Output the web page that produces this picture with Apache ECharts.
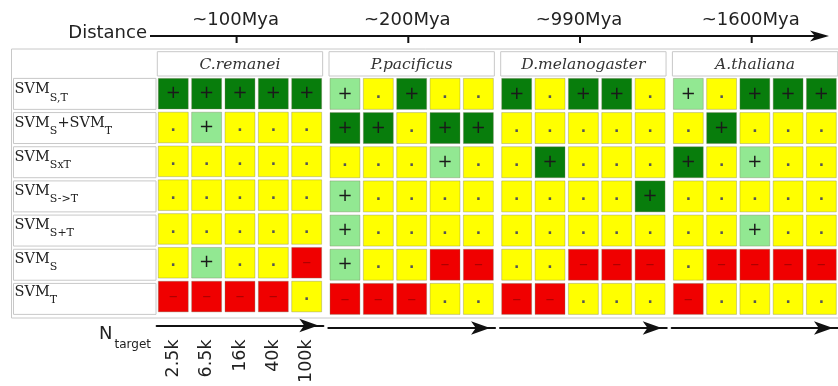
<!DOCTYPE html>
<html><head><meta charset="utf-8">
<script src="https://cdn.jsdelivr.net/npm/echarts@6/dist/echarts.min.js"></script>
<style>html,body{margin:0;padding:0;background:#fff}#c{width:838px;height:386px}</style>
</head><body><div id="c"></div>
<script>
// ---- data ----
const nTargets = ['2.5k', '6.5k', '16k', '40k', '100k'];
const models = ['S,T', 'S+T_sum', 'SxT', 'S->T', 'S+T', 'S', 'T'];
const species = ['C.remanei', 'P.pacificus', 'D.melanogaster', 'A.thaliana'];
const distances = ['~100Mya', '~200Mya', '~990Mya', '~1600Mya'];
// codes: 2 = significant gain (dark green), 1 = weak gain (light green), 0 = no change (yellow), -1 = loss (red)
const cRemanei = [
  [2, 2, 2, 2, 2],
  [0, 1, 0, 0, 0],
  [0, 0, 0, 0, 0],
  [0, 0, 0, 0, 0],
  [0, 0, 0, 0, 0],
  [0, 1, 0, 0, -1],
  [-1, -1, -1, -1, 0]
];
const pPacificus = [
  [1, 0, 2, 0, 0],
  [2, 2, 0, 2, 2],
  [0, 0, 0, 1, 0],
  [1, 0, 0, 0, 0],
  [1, 0, 0, 0, 0],
  [1, 0, 0, -1, -1],
  [-1, -1, -1, 0, 0]
];
const dMelanogaster = [
  [2, 0, 2, 2, 0],
  [0, 0, 0, 0, 0],
  [0, 2, 0, 0, 0],
  [0, 0, 0, 0, 2],
  [0, 0, 0, 0, 0],
  [0, 0, -1, -1, -1],
  [-1, -1, 0, 0, 0]
];
const aThaliana = [
  [1, 0, 2, 2, 2],
  [0, 2, 0, 0, 0],
  [2, 0, 1, 0, 0],
  [0, 0, 0, 0, 0],
  [0, 0, 1, 0, 0],
  [0, -1, -1, -1, -1],
  [-1, 0, 0, 0, 0]
];
const groups = [cRemanei, pPacificus, dMelanogaster, aThaliana];

// ---- style ----
const fillColor = { '2': '#087d0c', '1': '#92e892', '0': '#ffff00', '-1': '#f00000' };
const symText = { '2': '+', '1': '+', '0': '.', '-1': '\u2013' };
const symColor = { '2': '#1a1a1a', '1': '#1a1a1a', '0': '#555', '-1': '#b00000' };
const rowLabelRich = {
  'S,T': '{m|SVM}{s|S,T}',
  'S+T_sum': '{m|SVM}{s|S}{m|+SVM}{s|T}',
  'SxT': '{m|SVM}{s|SxT}',
  'S->T': '{m|SVM}{s|S->T}',
  'S+T': '{m|SVM}{s|S+T}',
  'S': '{m|SVM}{s|S}',
  'T': '{m|SVM}{s|T}'
};

const GRID_TOP = 76.8, ROW_PITCH = 34.17, GRID_H = 7 * ROW_PITCH;
const COL_PITCH = 33.35, GRID_W = 5 * COL_PITCH;
const LEFT0 = 156.6, GROUP_PITCH = 171.7;

const chart = echarts.init(document.getElementById('c'), null, { renderer: 'canvas' });

const grids = [], xAxes = [], yAxes = [], series = [];
groups.forEach((g, gi) => {
  grids.push({ left: LEFT0 + gi * GROUP_PITCH, top: GRID_TOP, width: GRID_W, height: GRID_H });
  xAxes.push({
    type: 'category', gridIndex: gi, data: nTargets, position: 'bottom', offset: 12,
    axisLine: { show: true, symbol: ['none', 'arrow'], symbolSize: [10, 19], symbolOffset: [0, -5],
      lineStyle: { color: '#111', width: 2 } },
    axisTick: { show: false }, splitLine: { show: false },
    axisLabel: gi === 0 ? { show: true, rotate: 90, margin: 14, fontSize: 17.5, fontFamily: 'DejaVu Sans', color: '#222' } : { show: false }
  });
  yAxes.push({
    type: 'category', gridIndex: gi, data: models, inverse: true,
    axisLine: { show: false }, axisTick: { show: false }, splitLine: { show: false },
    axisLabel: gi === 0 ? {
      show: true, align: 'left', margin: 142, padding: [0, 0, 7, 0],
      formatter: v => rowLabelRich[v],
      rich: {
        m: { fontSize: 14.5, fontFamily: 'DejaVu Serif', color: '#222', lineHeight: 16, verticalAlign: 'top' },
        s: { fontSize: 11, fontFamily: 'DejaVu Serif', color: '#222', lineHeight: 10, padding: [10, 0, 0, 0], verticalAlign: 'top' }
      }
    } : { show: false }
  });
  const data = [];
  g.forEach((row, ri) => row.forEach((v, ci) => data.push([ci, ri, v])));
  series.push({
    type: 'custom', xAxisIndex: gi, yAxisIndex: gi, data,
    renderItem(params, api) {
      const v = api.value(2);
      const c = api.coord([api.value(0), api.value(1)]);
      const s = api.size([1, 1]);
      const w = s[0] - 3.4, h = s[1] - 3.2;
      return {
        type: 'rect',
        shape: { x: c[0] - w / 2, y: c[1] - h / 2, width: w, height: h },
        style: { fill: fillColor[v], stroke: 'rgba(120,120,90,0.35)', lineWidth: 1 },
        textContent: {
          style: { text: symText[v], fill: symColor[v], fontSize: v === 0 ? 14 : 18,
            fontFamily: 'DejaVu Sans', fontWeight: v === 0 ? 'bold' : 'normal' }
        },
        textConfig: { position: 'inside' }
      };
    }
  });
});

// decorations
const graphic = [];
graphic.push({ type: 'rect', shape: { x: 11.5, y: 49, width: 840, height: 269 },
  style: { fill: 'none', stroke: '#c8c8c8', lineWidth: 1 }, z: -10 });
models.forEach((m, ri) => {
  graphic.push({ type: 'rect', shape: { x: 13.5, y: GRID_TOP + ri * ROW_PITCH + 1.6, width: 142.5, height: ROW_PITCH - 3.2 },
    style: { fill: '#fff', stroke: '#c8c8c8', lineWidth: 1 }, z: -5 });
});
species.forEach((sp, gi) => {
  const x0 = LEFT0 + gi * GROUP_PITCH;
  graphic.push({ type: 'rect', shape: { x: x0 + 0.7, y: 51.7, width: Math.min(GRID_W - 1.4, 838 - x0), height: 24.3 },
    style: { fill: '#fff', stroke: '#c8c8c8', lineWidth: 1 }, z: -5 });
  graphic.push({ type: 'text', style: { text: sp, x: x0 + GRID_W / 2, y: 64.5, font: 'italic 15.5px "DejaVu Serif"',
    fill: '#333', textAlign: 'center', textVerticalAlign: 'middle', align: 'center', verticalAlign: 'middle' } });
  const tx = x0 + 80;
  graphic.push({ type: 'line', shape: { x1: tx, y1: 36, x2: tx, y2: 43 }, style: { stroke: '#111', lineWidth: 2 } });
  graphic.push({ type: 'text', style: { text: distances[gi], x: tx - 1, y: 20.5, font: '18px "DejaVu Sans"',
    fill: '#222', textAlign: 'center', textVerticalAlign: 'middle', align: 'center', verticalAlign: 'middle' } });
});
graphic.push({ type: 'line', shape: { x1: 150, y1: 36, x2: 818, y2: 36 }, style: { stroke: '#111', lineWidth: 2 } });
graphic.push({ type: 'polygon', shape: { points: [[829, 36], [810, 30.5], [815, 36], [810, 41.5]] }, style: { fill: '#111' } });
graphic.push({ type: 'text', style: { text: 'Distance', x: 147, y: 33, font: '18px "DejaVu Sans"', fill: '#222',
  textAlign: 'right', textVerticalAlign: 'middle', align: 'right', verticalAlign: 'middle' } });
graphic.push({ type: 'text', style: { text: 'N', x: 99, y: 334.5, font: '18px "DejaVu Sans"', fill: '#222',
  textAlign: 'left', textVerticalAlign: 'middle', align: 'left', verticalAlign: 'middle' } });
graphic.push({ type: 'text', style: { text: 'target', x: 114.5, y: 345, font: '12px "DejaVu Sans"', fill: '#222',
  textAlign: 'left', textVerticalAlign: 'middle', align: 'left', verticalAlign: 'middle' } });

chart.setOption({
  animation: false,
  backgroundColor: '#fff',
  grid: grids, xAxis: xAxes, yAxis: yAxes, series, graphic
});
</script></body></html>
